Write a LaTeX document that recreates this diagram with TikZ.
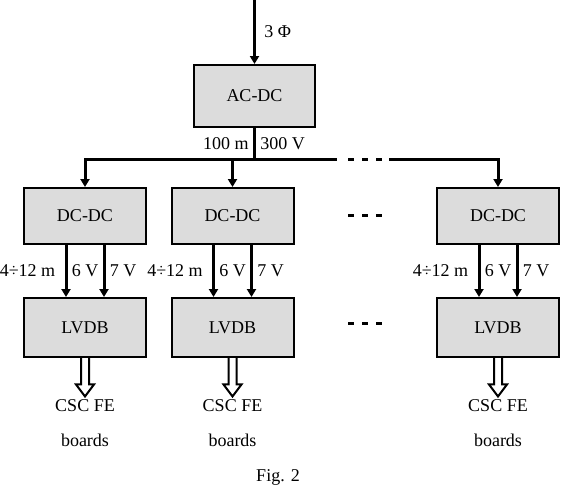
\documentclass[tikz,border=0pt]{standalone}
\usepackage{fontspec}
\setmainfont{Liberation Serif}
\usetikzlibrary{arrows.meta,calc}
\definecolor{boxgray}{RGB}{220,220,220}

\begin{document}
\begin{tikzpicture}[x=1pt, y=-1pt,
    font=\fontsize{18}{21}\selectfont,
    unitbox/.style={rectangle, draw=black, line width=2pt, fill=boxgray,
                    inner sep=0pt, minimum width=122pt, align=center},
    pwr/.style={line width=3pt, draw=black},
    arr/.style={pwr, -{Triangle[length=8pt,width=9pt]}},
    outarr/.style={line width=2pt, draw=black, line join=miter},
    gapdash/.style={line width=3pt, dash pattern=on 6pt off 8pt}
]
\useasboundingbox (0,0) rectangle (562,493);

%% Nodes at absolute coordinates (y grows downwards) %%

% Rectifier
\node[unitbox, minimum width=121pt, minimum height=62pt] (acdc) at (254.5,96) {AC-DC};

% Converters
\node[unitbox, minimum height=56pt] (dc1) at (85,216)  {DC-DC};
\node[unitbox, minimum height=56pt] (dc2) at (232.5,216) {DC-DC};
\node[unitbox, minimum height=56pt] (dc3) at (498,216) {DC-DC};

% Distribution boards
\node[unitbox, minimum height=59pt] (lv1) at (85,327.5)  {LVDB};
\node[unitbox, minimum height=59pt] (lv2) at (232.5,327.5) {LVDB};
\node[unitbox, minimum height=59pt] (lv3) at (498,327.5) {LVDB};

% Loads
\node (fe1) at (85,406)    {CSC FE};
\node (fe2) at (232.5,406) {CSC FE};
\node (fe3) at (498,406)   {CSC FE};
\node (bd1) at (85,440)    {boards};
\node (bd2) at (232.5,440) {boards};
\node (bd3) at (498,440)   {boards};

\node (fig) at (278,477) {Fig. 2};

% Bus points
\coordinate (mains) at (254.5,0);
\coordinate (busy)  at (0,159);
\coordinate (tap)   at (acdc.south |- busy);
\coordinate (gapl)  at (337,159);
\coordinate (gapr)  at (389,159);

%% Arrows %%

% Mains -> AC-DC -> bus
\draw[arr] (mains) -- (acdc.north) node[midway, right=5pt] {3 Φ};
\draw[pwr] (acdc.south) -- (tap)
    node[midway, left=1pt] {100 m} node[midway, right=1pt] {300 V};

% Bus -> converters
\draw[arr] (tap) -| (dc1.north);
\draw[arr] (dc2.north |- tap) -- (dc2.north);
\draw[pwr] (tap) -- (gapl);
\draw[gapdash] ($(gapl)+(11,0)$) -- ($(gapr)+(-7,0)$);
\draw[arr] (gapr) -| (dc3.north);

% Skipped columns
\draw[gapdash] (348,215) -- (382,215);
\draw[gapdash] (348,323) -- (382,323);

% Converters -> boards -> loads
\foreach \n in {1,2,3} {
  \draw[arr] ([xshift=-19pt]dc\n.south) -- ([xshift=-19pt]lv\n.north)
      node[midway, left=6pt] {4÷12 m} node[midway, right=1pt] {6 V};
  \draw[arr] ([xshift=19pt]dc\n.south) -- ([xshift=19pt]lv\n.north)
      node[midway, right=1pt] {7 V};
  \draw[outarr] ($(lv\n.south)+(-4,0)$) -- ($(fe\n.north)+(-4,-12)$)
      -- ($(fe\n.north)+(-9,-12)$) -- (fe\n.north) -- ($(fe\n.north)+(9,-12)$)
      -- ($(fe\n.north)+(4,-12)$) -- ($(lv\n.south)+(4,0)$);
}

\end{tikzpicture}
\end{document}
